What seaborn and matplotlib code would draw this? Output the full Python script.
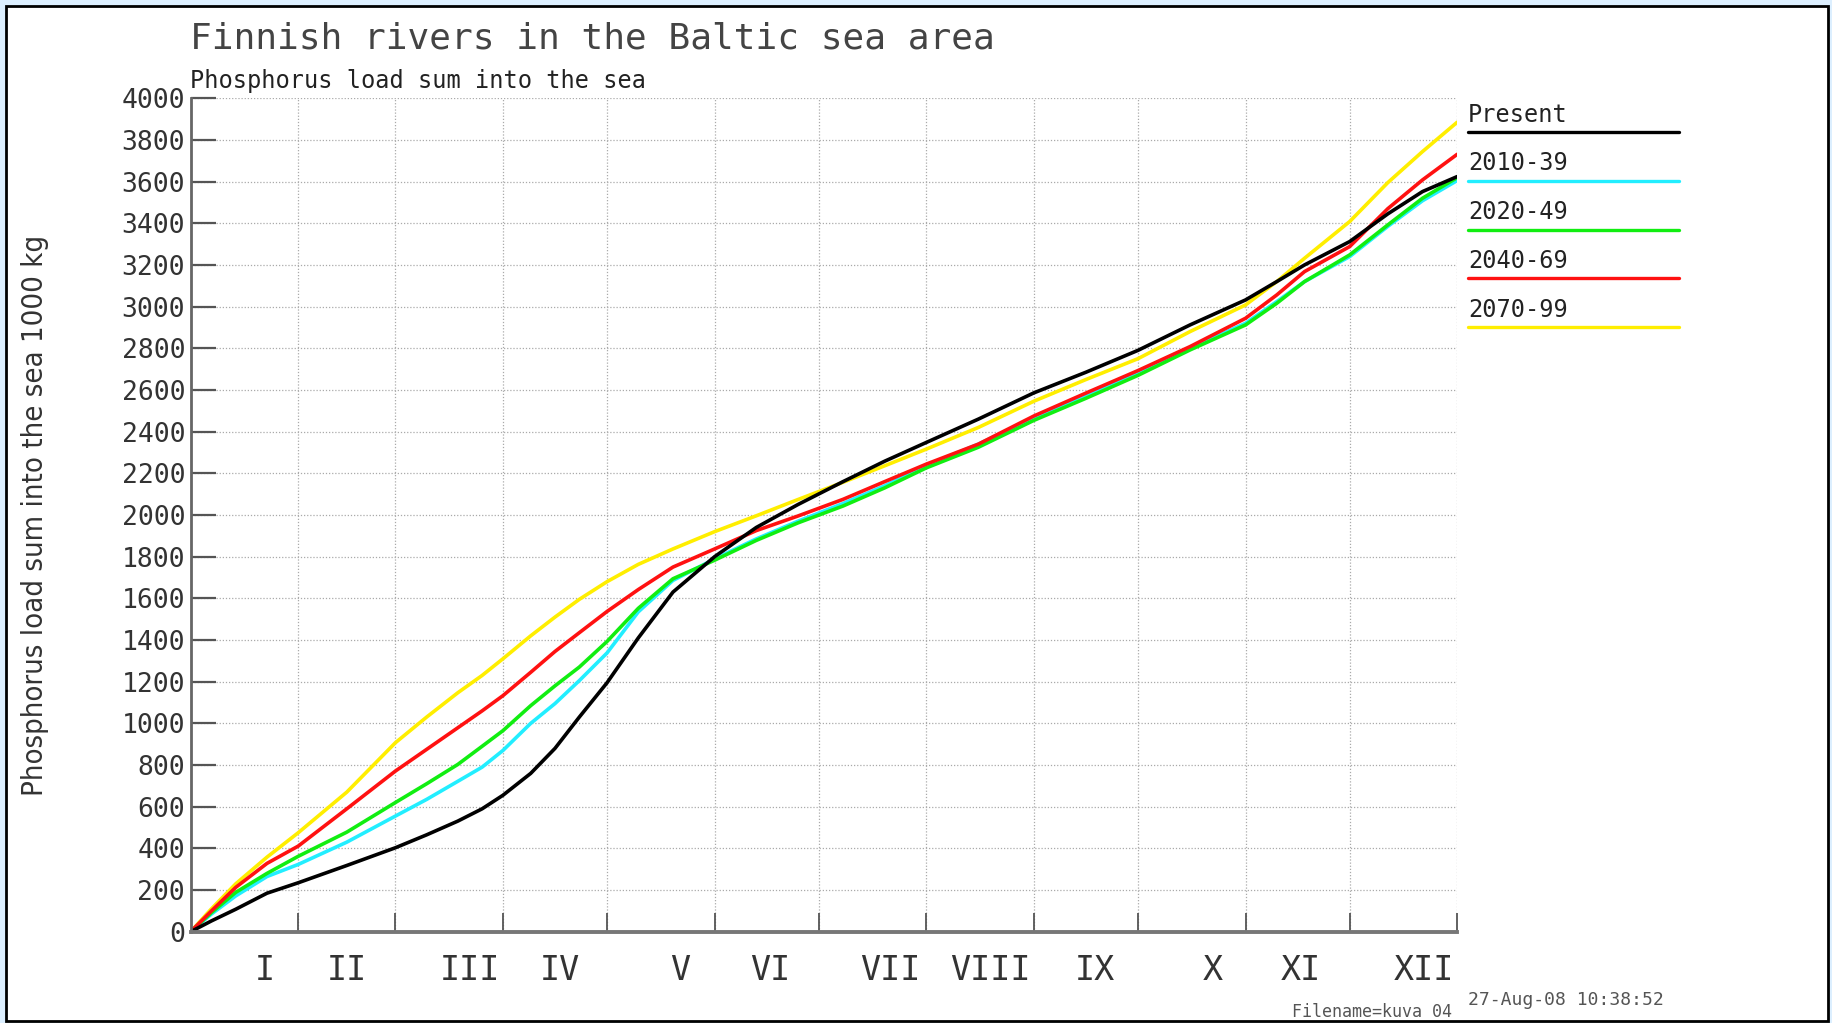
import matplotlib
matplotlib.use("Agg")
import matplotlib.pyplot as plt
from matplotlib.lines import Line2D
from matplotlib.patches import Rectangle
import seaborn as sns
import pandas as pd

# day of year and cumulative phosphorus load (1000 kg)
days = [0, 6, 13, 22, 31, 45, 59, 68, 77, 84, 90, 98, 105, 112, 120, 129, 139, 151,
        163, 175, 188, 200, 212, 227, 243, 258, 273, 288, 304, 313, 321, 334, 345, 355, 365]
present = [0, 52, 108, 185, 235, 318, 403, 465, 531, 590, 655, 760, 880, 1030, 1195, 1410, 1630, 1800,
           1940, 2050, 2160, 2258, 2348, 2460, 2586, 2685, 2790, 2912, 3032, 3120, 3200, 3312, 3445, 3552, 3624]
p2010_39 = [0, 85, 172, 265, 323, 430, 555, 635, 722, 790, 870, 1000, 1095, 1205, 1338, 1535, 1686, 1789,
            1885, 1970, 2055, 2140, 2237, 2340, 2467, 2575, 2685, 2800, 2920, 3024, 3120, 3240, 3385, 3508, 3605]
p2020_49 = [0, 92, 189, 280, 362, 478, 620, 710, 803, 890, 965, 1085, 1180, 1270, 1393, 1552, 1694, 1783,
            1878, 1962, 2043, 2130, 2226, 2325, 2454, 2560, 2670, 2792, 2912, 3016, 3120, 3248, 3392, 3520, 3619]
p2040_69 = [0, 100, 213, 328, 411, 590, 771, 875, 979, 1060, 1133, 1245, 1345, 1435, 1537, 1642, 1750, 1837,
            1925, 1995, 2075, 2160, 2244, 2340, 2475, 2585, 2693, 2808, 2944, 3056, 3168, 3288, 3470, 3608, 3731]
p2070_99 = [0, 110, 230, 358, 475, 670, 907, 1030, 1147, 1230, 1310, 1420, 1510, 1595, 1680, 1763, 1837, 1920,
            1996, 2074, 2157, 2236, 2316, 2420, 2546, 2650, 2750, 2880, 3008, 3120, 3232, 3408, 3595, 3744, 3885]

series_names = ["Present", "2010-39", "2020-49", "2040-69", "2070-99"]
series_values = [present, p2010_39, p2020_49, p2040_69, p2070_99]
series_colors = ["#000000", "#22eeff", "#11ee11", "#ff1111", "#ffee00"]

month_ends = [31, 59, 90, 120, 151, 181, 212, 243, 273, 304, 334, 365]
month_labels = ["I", "II", "III", "IV", "V", "VI", "VII", "VIII", "IX", "X", "XI", "XII"]
month_label_days = [21.5, 45, 80.5, 106.5, 141, 167, 201.5, 230.5, 260.5, 294.5, 320, 355.5]
y_ticks = list(range(0, 4001, 200))

df = pd.concat([pd.DataFrame({"day": days, "load": v, "period": n})
                for n, v in zip(series_names, series_values)], ignore_index=True)

sns.set_theme(style="white")
plt.rcParams["font.family"] = ["DejaVu Sans", "DejaVu Sans Mono"]
mono = "DejaVu Sans Mono"

fig = plt.figure(figsize=(18.33, 10.23), dpi=100)
fig.patch.set_facecolor("#dcefff")
fig.patches.append(Rectangle((0.0035, 0.002), 0.9935, 0.992, transform=fig.transFigure,
                             facecolor="white", edgecolor="black", lw=2, zorder=-10))

ax = fig.add_axes([0.104, 0.0892, 0.691, 0.8148])
ax.set_facecolor("white")

palette = dict(zip(series_names, series_colors))
draw_order = ["2070-99", "2010-39", "2020-49", "2040-69", "Present"]
sns.lineplot(data=df, x="day", y="load", hue="period", hue_order=draw_order,
             palette=palette, estimator=None, sort=False, lw=2.6, legend=False, ax=ax)
for line in ax.lines:
    line.set_solid_joinstyle("round")

ax.set_xlim(0, 365)
ax.set_ylim(0, 4000)
ax.set_yticks(y_ticks)
ax.set_yticklabels([str(t) for t in y_ticks], family=mono, fontsize=19, color="#333333")
ax.set_xticks(month_ends)
ax.set_xticklabels([])
ax.set_xticks(month_label_days, minor=True)
ax.set_xticklabels(month_labels, minor=True, family=mono, fontsize=24, color="#333333")
ax.tick_params(axis="y", direction="in", length=18, width=1.6, color="#555555", pad=4, left=True)
ax.tick_params(axis="x", which="major", direction="in", length=14, width=1.3,
               color="#555555", bottom=True)
ax.tick_params(axis="x", which="minor", length=0, pad=16)
ax.grid(True, which="major", linestyle=(0, (1, 1.5)), color="#aaaaaa", lw=0.9)

for side in ["top", "right"]:
    ax.spines[side].set_visible(False)
ax.spines["left"].set_color("#666666")
ax.spines["left"].set_linewidth(2)
ax.spines["bottom"].set_color("#777777")
ax.spines["bottom"].set_linewidth(2.8)

ax.set_xlabel("")
ax.set_ylabel("Phosphorus load sum into the sea 1000 kg", fontsize=21,
              fontstretch="condensed", color="#333333")
ax.yaxis.set_label_coords(-0.112, 0.5)

fig.text(0.1037, 0.962, "Finnish rivers in the Baltic sea area", family=mono,
         fontsize=26, color="#444444", va="center", ha="left")
fig.text(0.1037, 0.921, "Phosphorus load sum into the sea", family=mono,
         fontsize=17, color="#222222", va="center", ha="left")

# legend: label above a coloured line
for i, (name, col) in enumerate(zip(series_names, series_colors)):
    yt = 0.888 - i * 0.0477
    fig.text(0.801, yt, name, family=mono, fontsize=17, color="#222222",
             va="center", ha="left")
    fig.add_artist(Line2D([0.801, 0.916], [yt - 0.017, yt - 0.017],
                          transform=fig.transFigure, color=col, lw=2.4))

fig.text(0.801, 0.0225, "27-Aug-08 10:38:52", family=mono, fontsize=13,
         color="#555555", va="center", ha="left")
fig.text(0.705, 0.0108, "Filename=kuva 04", family=mono, fontsize=12,
         color="#555555", va="center", ha="left")

fig.savefig("out.png", dpi=100)
